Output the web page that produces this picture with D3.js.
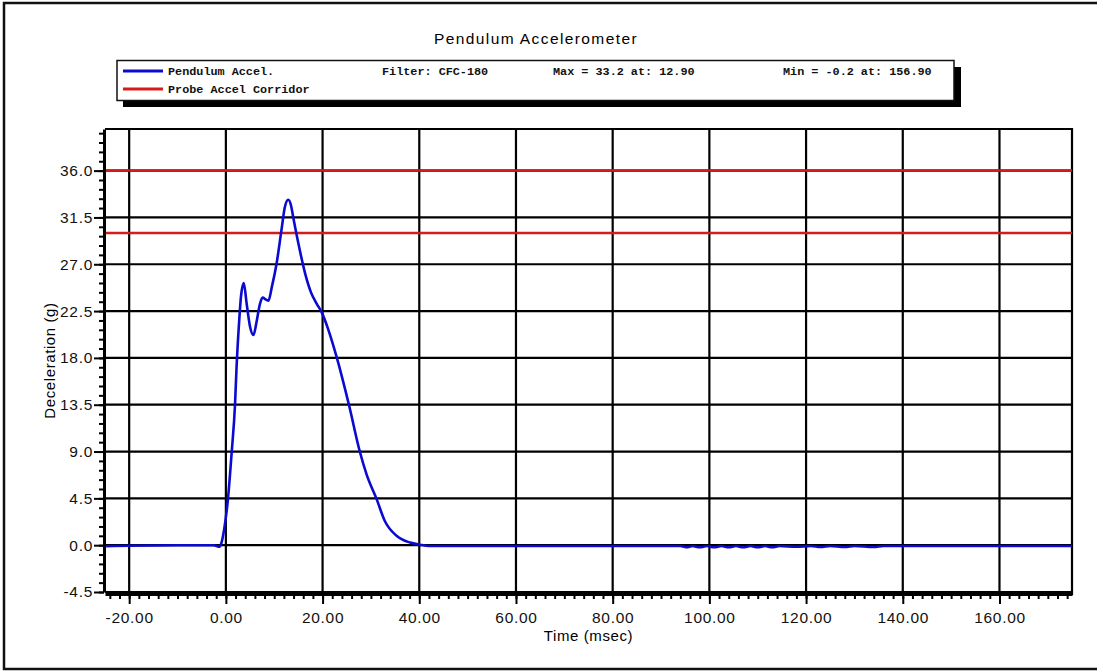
<!DOCTYPE html>
<html>
<head>
<meta charset="utf-8">
<script src="https://cdn.jsdelivr.net/npm/d3@7"></script>
<style>
  body { margin: 0; background: #fff; }
  svg { display: block; }
  .tick text { font-family: "Liberation Sans", Arial, sans-serif; font-size: 15.5px; letter-spacing: 0.7px; fill: #111; }
  .legend text { font-family: "Liberation Mono", "Courier New", monospace; font-size: 11.8px; font-weight: bold; fill: #111; }
</style>
</head>
<body>
<script>
// time (msec) and deceleration (g)
var timeMs = [-25, -20, -10, -2.5, -1.8, -1.3, -0.9, -0.4, 0.4, 1.2, 1.9, 2.2, 2.8, 3.1, 3.7,
  4.3, 5.0, 5.7, 6.4, 7.05, 7.6, 8.3, 8.8, 9.5, 10.5, 11.5, 12.2, 12.9, 13.5, 13.9,
  15.0, 16.4, 17.6, 18.8, 19.8, 21.2, 22.9, 25.5, 27.7, 29.1, 31.2, 32.9, 35.3,
  38.1, 40.1, 42, 60, 94, 95.5, 96.5, 98, 99.5, 101, 102.5, 104, 105.5, 107, 108.5,
  110, 111.5, 113, 114.5, 118, 121, 123, 125, 128, 130, 134, 136, 175];
var accelG = [-0.1, -0.05, 0, 0, -0.1, -0.15, 0.25, 1.4, 4.3, 8.9, 13.6, 17.0, 21.9, 23.8, 25.2,
  23.2, 21.0, 20.2, 21.6, 23.2, 23.8, 23.6, 23.5, 24.8, 27.1, 30.3, 32.5, 33.2, 32.6, 31.6,
  29.0, 26.1, 24.3, 23.2, 22.4, 20.7, 18.1, 13.4, 9.0, 6.8, 4.4, 2.3, 0.9,
  0.25, 0.05, -0.08, -0.08, -0.08, -0.2, -0.08, -0.2, -0.08, -0.2, -0.08, -0.2, -0.08, -0.2, -0.08,
  -0.2, -0.08, -0.2, -0.08, -0.15, -0.08, -0.18, -0.08, -0.18, -0.08, -0.18, -0.08, -0.08];

var corridor = [30.0, 36.0];

var xTicks = [-20, 0, 20, 40, 60, 80, 100, 120, 140, 160];
var yTicks = [-4.5, 0, 4.5, 9, 13.5, 18, 22.5, 27, 31.5, 36];

var legendNames = ["Pendulum Accel.", "Probe Accel Corridor"];
var legendStats = ["Filter: CFC-180", "Max = 33.2 at: 12.90", "Min = -0.2 at: 156.90"];

var w = 1097, h = 671;
var plot = {left: 105, right: 1072, top: 129, bottom: 592};
var blue = "#0a0ad0", red = "#d41c1c";

// plain hyphen for negatives, like the original
function fmt(spec) {
  var f = d3.format(spec);
  return function(d) { return f(d).replace("\u2212", "-"); };
}

var svg = d3.select("body").append("svg")
    .attr("width", w)
    .attr("height", h);

// outer frame
svg.append("rect")
    .attr("x", 4).attr("y", 3)
    .attr("width", w + 10).attr("height", h - 5)
    .attr("fill", "none")
    .attr("stroke", "#111")
    .attr("stroke-width", 2.5);

var xScale = d3.scaleLinear().domain([-25, 175]).range([plot.left, plot.right]);
var yScale = d3.scaleLinear().domain([-4.5, 40]).range([plot.bottom, plot.top]);

var xMinor = d3.range(-24, 175, 2);
var yMinor = d3.range(0, 50).map(function(i) { return +(-4.5 + i * 0.9).toFixed(1); })
    .filter(function(v) { return v <= 40; });

// grid
svg.append("g").selectAll("line")
    .data(xTicks)
  .enter().append("line")
    .attr("x1", function(d) { return xScale(d); })
    .attr("x2", function(d) { return xScale(d); })
    .attr("y1", plot.top).attr("y2", plot.bottom)
    .attr("stroke", "#000").attr("stroke-width", 2.2);

svg.append("g").selectAll("line")
    .data(yTicks)
  .enter().append("line")
    .attr("x1", plot.left).attr("x2", plot.right)
    .attr("y1", function(d) { return yScale(d); })
    .attr("y2", function(d) { return yScale(d); })
    .attr("stroke", "#000").attr("stroke-width", 2.2);

// plot border (top / right)
svg.append("path")
    .attr("d", "M" + plot.left + "," + plot.top + "H" + plot.right + "V" + (plot.bottom + 3))
    .attr("fill", "none").attr("stroke", "#000").attr("stroke-width", 2.2);

// corridor lines
svg.append("g").selectAll("line")
    .data(corridor)
  .enter().append("line")
    .attr("x1", plot.left).attr("x2", plot.right)
    .attr("y1", function(d) { return yScale(d); })
    .attr("y2", function(d) { return yScale(d); })
    .attr("stroke", red).attr("stroke-width", 2.5);

// trace
var data = timeMs.map(function(t, i) { return {t: t, g: accelG[i]}; });
var line = d3.line()
    .x(function(d) { return xScale(d.t); })
    .y(function(d) { return yScale(d.g); })
    .curve(d3.curveMonotoneX);

svg.append("path")
    .datum(data)
    .attr("d", line)
    .attr("fill", "none")
    .attr("stroke", blue)
    .attr("stroke-width", 2.6)
    .attr("stroke-linejoin", "round");

// axes
var axisY = plot.bottom + 2;
svg.append("g")
    .attr("transform", "translate(0," + axisY + ")")
    .call(d3.axisBottom(xScale).tickValues(xMinor).tickSize(5).tickSizeOuter(0).tickFormat(""))
    .call(function(g) { g.selectAll("line").attr("stroke-width", 2); g.select(".domain").attr("stroke-width", 3); });

svg.append("g")
    .attr("transform", "translate(0," + axisY + ")")
    .call(d3.axisBottom(xScale).tickValues(xTicks).tickSize(10).tickSizeOuter(0).tickPadding(8).tickFormat(fmt(".2f")))
    .call(function(g) { g.selectAll("line").attr("stroke-width", 2); g.select(".domain").remove(); });

svg.append("g")
    .attr("transform", "translate(" + (plot.left - 1) + ",0)")
    .call(d3.axisLeft(yScale).tickValues(yMinor).tickSize(5).tickSizeOuter(0).tickFormat(""))
    .call(function(g) { g.selectAll("line").attr("stroke-width", 2); g.select(".domain").attr("stroke-width", 3); });

svg.append("g")
    .attr("transform", "translate(" + (plot.left - 1) + ",0)")
    .call(d3.axisLeft(yScale).tickValues(yTicks).tickSize(10).tickSizeOuter(0).tickPadding(1).tickFormat(fmt(".1f")))
    .call(function(g) { g.selectAll("line").attr("stroke-width", 2); g.select(".domain").remove(); });

// titles
svg.append("text")
    .attr("x", 536).attr("y", 44)
    .attr("text-anchor", "middle")
    .style("font-family", "'Liberation Sans', Arial, sans-serif")
    .style("font-size", "15.5px")
    .style("letter-spacing", "1.4px")
    .text("Pendulum Accelerometer");

svg.append("text")
    .attr("x", (plot.left + plot.right) / 2).attr("y", 641)
    .attr("text-anchor", "middle")
    .style("font-family", "'Liberation Sans', Arial, sans-serif")
    .style("font-size", "15px")
    .style("letter-spacing", "0.6px")
    .text("Time (msec)");

svg.append("text")
    .attr("transform", "translate(55," + (plot.top + plot.bottom) / 2 + ") rotate(-90)")
    .attr("text-anchor", "middle")
    .style("font-family", "'Liberation Sans', Arial, sans-serif")
    .style("font-size", "15px")
    .style("letter-spacing", "0.6px")
    .text("Deceleration (g)");

// legend box with drop shadow
var legend = svg.append("g").attr("class", "legend");
legend.append("rect")
    .attr("x", 123).attr("y", 67)
    .attr("width", 838).attr("height", 40)
    .attr("fill", "#000");
legend.append("rect")
    .attr("x", 117).attr("y", 60.5)
    .attr("width", 837).attr("height", 40)
    .attr("fill", "#fff")
    .attr("stroke", "#111").attr("stroke-width", 1.5);

var rows = legend.selectAll(".row")
    .data(legendNames)
  .enter().append("g")
    .attr("class", "row")
    .attr("transform", function(d, i) { return "translate(0," + (71 + i * 18) + ")"; });

rows.append("line")
    .attr("x1", 123).attr("x2", 163)
    .attr("stroke", function(d, i) { return i === 0 ? blue : red; })
    .attr("stroke-width", 3);

rows.append("text")
    .attr("x", 168).attr("y", 4)
    .text(function(d) { return d; });

legend.selectAll(".stat")
    .data(legendStats)
  .enter().append("text")
    .attr("class", "stat")
    .attr("x", function(d, i) { return [382, 553, 783][i]; })
    .attr("y", 75)
    .text(function(d) { return d; });
</script>
</body>
</html>
